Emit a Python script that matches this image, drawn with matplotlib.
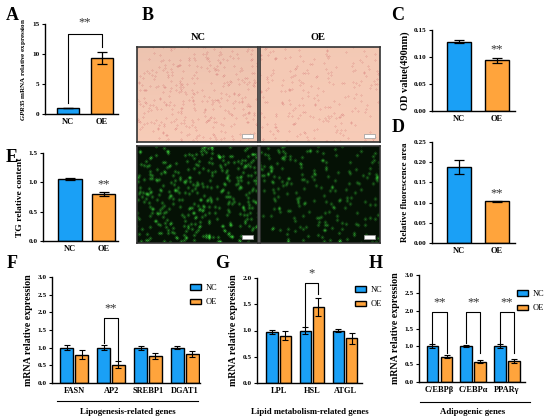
import numpy as np
import matplotlib
matplotlib.use("Agg")
import matplotlib.pyplot as plt
from matplotlib.lines import Line2D
from matplotlib.patches import Patch, Rectangle

plt.rcParams['font.family'] = ['Liberation Serif', 'DejaVu Serif']
plt.rcParams['mathtext.fontset'] = 'custom'
plt.rcParams['mathtext.it'] = 'Liberation Serif:italic:bold'
plt.rcParams['mathtext.rm'] = 'Liberation Serif:bold'

# ---------------- data ----------------
groups2 = ["NC", "OE"]
gpr35_mean = [1.0, 9.35]
gpr35_err = [0.06, 1.0]
od_mean = [0.128, 0.094]
od_err = [0.003, 0.005]
fluo_mean = [0.188, 0.103]
fluo_err = [0.017, 0.002]
tg_mean = [1.06, 0.80]
tg_err = [0.02, 0.04]

lipo_genes = ["FASN", "AP2", "SREBP1", "DGAT1"]
lipo_nc = [1.0, 1.0, 1.0, 1.0]
lipo_nc_err = [0.08, 0.08, 0.06, 0.05]
lipo_oe = [0.80, 0.52, 0.76, 0.83]
lipo_oe_err = [0.12, 0.09, 0.09, 0.08]

lipid_genes = ["LPL", "HSL", "ATGL"]
lipid_nc = [0.97, 1.0, 1.0]
lipid_nc_err = [0.04, 0.06, 0.02]
lipid_oe = [0.90, 1.45, 0.85]
lipid_oe_err = [0.09, 0.17, 0.10]

adipo_genes = ["C/EBPβ", "C/EBPα", "PPARγ"]
adipo_nc = [1.0, 1.0, 1.0]
adipo_nc_err = [0.06, 0.03, 0.06]
adipo_oe = [0.71, 0.57, 0.59]
adipo_oe_err = [0.05, 0.05, 0.05]

BLUE = "#1AA0F6"
ORANGE = "#FFA43C"
W, H = 550, 419

fig = plt.figure(figsize=(5.5, 4.19), dpi=100)


def ax_px(x0, y0, x1, y1):
    return fig.add_axes([x0 / W, 1 - y1 / H, (x1 - x0) / W, (y1 - y0) / H])


def ftext(x, y, s, **kw):
    fig.text(x / W, 1 - y / H, s, **kw)


def style(ax, ylim, yticks, ylabels, ylabel, ylfs, labelpad=2):
    for s in ["top", "right"]:
        ax.spines[s].set_visible(False)
    for s in ["left", "bottom"]:
        ax.spines[s].set_linewidth(1.0)
    ax.set_ylim(*ylim)
    ax.set_yticks(yticks)
    ax.set_yticklabels(ylabels, fontsize=5.2, fontweight='bold')
    ax.tick_params(axis='y', length=2.5, width=0.8, pad=1.5)
    ax.tick_params(axis='x', length=0, pad=3)
    ax.set_ylabel(ylabel, fontsize=ylfs, fontweight='bold', labelpad=labelpad)


def two_bar(ax, mean, err, xlim, width):
    ax.bar([0, 1], mean, width=width, color=[BLUE, ORANGE], edgecolor='black', linewidth=1.0,
           yerr=err, error_kw=dict(ecolor='black', elinewidth=0.9, capsize=3.5, capthick=0.9))
    ax.set_xlim(*xlim)
    ax.set_xticks([0, 1])
    ax.set_xticklabels(groups2, fontsize=6, fontweight='bold')


def grouped(ax, genes, nc, nce, oe, oee, xlim, width, off):
    x = np.arange(len(genes))
    ek = dict(ecolor='black', elinewidth=0.8, capsize=2.5, capthick=0.8)
    ax.bar(x - off, nc, width=width, color=BLUE, edgecolor='black', linewidth=1.0, yerr=nce, error_kw=ek, label="NC")
    ax.bar(x + off, oe, width=width, color=ORANGE, edgecolor='black', linewidth=1.0, yerr=oee, error_kw=ek, label="OE")
    ax.set_xlim(*xlim)
    ax.set_xticks(x)
    ax.set_xticklabels(genes, fontsize=6, fontweight='bold')


def bracket(ax, x0, x1, ytop, yl, yr, star, sy, fs=9):
    ax.plot([x0, x0, x1, x1], [yl, ytop, ytop, yr], color='black', lw=0.8, clip_on=False)
    ax.text((x0 + x1) / 2, sy, star, ha='center', va='center', fontsize=fs, color='#333333', clip_on=False)


def legend(ax, x, y):
    h = [Patch(facecolor=BLUE, edgecolor='black', linewidth=1.0),
         Patch(facecolor=ORANGE, edgecolor='black', linewidth=1.0)]
    ax.legend(h, ["NC", "OE"], loc='upper left', bbox_to_anchor=(x / W, 1 - y / H),
              bbox_transform=fig.transFigure, frameon=False, fontsize=6,
              handlelength=1.3, handleheight=0.6, handletextpad=0.6, labelspacing=0.75,
              borderaxespad=0, borderpad=0)


# ---------------- A ----------------
axA = ax_px(45, 24, 118, 114)
two_bar(axA, gpr35_mean, gpr35_err, (-0.677, 1.473), 0.65)
style(axA, (0, 15), [0, 5, 10, 15], ["0", "5", "10", "15"],
      r"$\it{GPR35}$ mRNA relative expression", 5.0, labelpad=3)
bracket(axA, 0, 1, 13.3, 1.8, 11.2, "**", 15.3)

# ---------------- C ----------------
axC = ax_px(432, 30, 515, 111)
two_bar(axC, od_mean, od_err, (-0.71, 1.47), 0.63)
style(axC, (0, 0.15), [0, 0.05, 0.10, 0.15], ["0.00", "0.05", "0.10", "0.15"],
      "OD value(490nm)", 7.5, labelpad=3)
axC.text(1, 0.104, "**", ha='center', va='bottom', fontsize=9, color='#333333')

# ---------------- D ----------------
axD = ax_px(432, 142, 515, 243)
two_bar(axD, fluo_mean, fluo_err, (-0.71, 1.47), 0.63)
style(axD, (0, 0.25), [0, 0.05, 0.10, 0.15, 0.20, 0.25],
      ["0.00", "0.05", "0.10", "0.15", "0.20", "0.25"], "Relative fluorescence area", 6.5, labelpad=3)
axD.text(1, 0.108, "**", ha='center', va='bottom', fontsize=9, color='#333333')

# ---------------- E ----------------
axE = ax_px(43, 153, 118, 241)
two_bar(axE, tg_mean, tg_err, (-0.795, 1.414), 0.68)
style(axE, (0, 1.5), [0, 0.5, 1.0, 1.5], ["0.0", "0.5", "1.0", "1.5"],
      "TG relative content", 6.8, labelpad=3)
axE.text(1, 0.86, "**", ha='center', va='bottom', fontsize=9, color='#333333')

# ---------------- F ----------------
axF = ax_px(52, 277, 200, 383)
grouped(axF, lipo_genes, lipo_nc, lipo_nc_err, lipo_oe, lipo_oe_err, (-0.6, 3.41), 0.35, 0.2)
style(axF, (0, 3.0), [0, 0.5, 1.0, 1.5, 2.0, 2.5, 3.0],
      ["0.0", "0.5", "1.0", "1.5", "2.0", "2.5", "3.0"], "mRNA relative expression", 7.2, labelpad=3)
bracket(axF, 1 - 0.2, 1 + 0.2, 1.84, 1.12, 0.66, "**", 2.1)
legend(axF, 190, 284)

# ---------------- G ----------------
axG = ax_px(257, 278, 362, 383)
grouped(axG, lipid_genes, lipid_nc, lipid_nc_err, lipid_oe, lipid_oe_err, (-0.65, 2.51), 0.34, 0.2)
style(axG, (0, 2.0), [0, 0.5, 1.0, 1.5, 2.0], ["0.0", "0.5", "1.0", "1.5", "2.0"],
      "mRNA relative expression", 7.2, labelpad=3)
bracket(axG, 1 - 0.2, 1 + 0.2, 1.9, 1.08, 1.7, "*", 2.08)
legend(axG, 355, 286)

# ---------------- H ----------------
axH = ax_px(419, 275, 525, 382)
grouped(axH, adipo_genes, adipo_nc, adipo_nc_err, adipo_oe, adipo_oe_err, (-0.61, 2.54), 0.35, 0.21)
style(axH, (0, 3.0), [0, 0.5, 1.0, 1.5, 2.0, 2.5, 3.0],
      ["0.0", "0.5", "1.0", "1.5", "2.0", "2.5", "3.0"], "mRNA relative expression", 7.2, labelpad=3)
for i in range(3):
    bracket(axH, i - 0.21, i + 0.21, 1.97, 1.1, 0.8, "**", 2.22)
legend(axH, 517, 290)

# group underlines and titles
fig.add_artist(Line2D([57 / W, 198 / W], [1 - 401 / H] * 2, color='black', lw=0.8))
fig.add_artist(Line2D([420 / W, 530 / W], [1 - 402 / H] * 2, color='black', lw=0.8))
ftext(128, 412, "Lipogenesis-related genes", ha='center', va='center', fontsize=6.3, fontweight='bold')
ftext(310, 412, "Lipid metabolism-related genes", ha='center', va='center', fontsize=6.3, fontweight='bold')
ftext(473, 412, "Adipogenic genes", ha='center', va='center', fontsize=6.3, fontweight='bold')

# ---------------- B : microscopy panels (texture only) ----------------
def hash_noise(h, w, k):
    yy, xx = np.mgrid[0:h, 0:w].astype(float)
    v = np.sin(xx * 12.9898 + yy * 78.233 + k * 37.719) * 43758.5453
    return v - np.floor(v)


def blur(a, n=1):
    out = a.copy()
    for _ in range(n):
        out = (out + np.roll(out, 1, 0) + np.roll(out, -1, 0) + np.roll(out, 1, 1) + np.roll(out, -1, 1)) / 5
    return out


def brightfield(h, w, k, dens, dark):
    n = hash_noise(h, w, k)
    spots = (n > 1 - dens).astype(float)
    spots = blur(spots, 1)
    base = np.array([0.97, 0.80, 0.72])
    spot = np.array([0.90, 0.62, 0.58])
    yy = np.linspace(0, 1, h)[:, None]
    shade = 1 - dark * (1 - yy) * 0.5
    s = np.clip(spots * 2.2, 0, 1)[..., None]
    img = base * (1 - s) + spot * s
    img = img * shade[..., None]
    return np.clip(img, 0, 1)


def fluor(h, w, k, dens, gain):
    n = hash_noise(h, w, k)
    spots = (n > 1 - dens).astype(float)
    spots = blur(spots, 2) * gain
    s = np.clip(spots * 3.0, 0, 1)[..., None]
    bg = np.array([0.02, 0.07, 0.02])
    fg = np.array([0.22, 0.78, 0.22])
    return np.clip(bg * (1 - s) + fg * s, 0, 1)


panels = [
    (137, 47, 258, 142, brightfield(95, 121, 1, 0.03, 0.08)),
    (260, 47, 380, 142, brightfield(95, 120, 2, 0.02, 0.03)),
    (137, 146, 258, 243, fluor(97, 121, 3, 0.035, 1.0)),
    (260, 146, 380, 243, fluor(97, 120, 4, 0.018, 0.9)),
]
for (x0, y0, x1, y1, img) in panels:
    a = ax_px(x0, y0, x1, y1)
    a.imshow(img, aspect='auto', interpolation='bilinear')
    a.set_xticks([])
    a.set_yticks([])
    for s in a.spines.values():
        s.set_linewidth(1.2)
        s.set_color('#333333')
    a.add_patch(Rectangle((0.87, 0.04), 0.09, 0.045, transform=a.transAxes,
                          facecolor='white', edgecolor='#999999', lw=0.5))

ftext(198, 37, "NC", ha='center', va='center', fontsize=7.5, fontweight='bold')
ftext(318, 37, "OE", ha='center', va='center', fontsize=7.5, fontweight='bold')

# panel letters
for lab, x, y in [("A", 12, 15), ("B", 148, 15), ("C", 398, 15), ("D", 398, 128),
                  ("E", 12, 157), ("F", 12, 264), ("G", 222, 263), ("H", 376, 263)]:
    ftext(x, y, lab, ha='center', va='center', fontsize=13, fontweight='bold')

fig.savefig("out.png", dpi=100)
